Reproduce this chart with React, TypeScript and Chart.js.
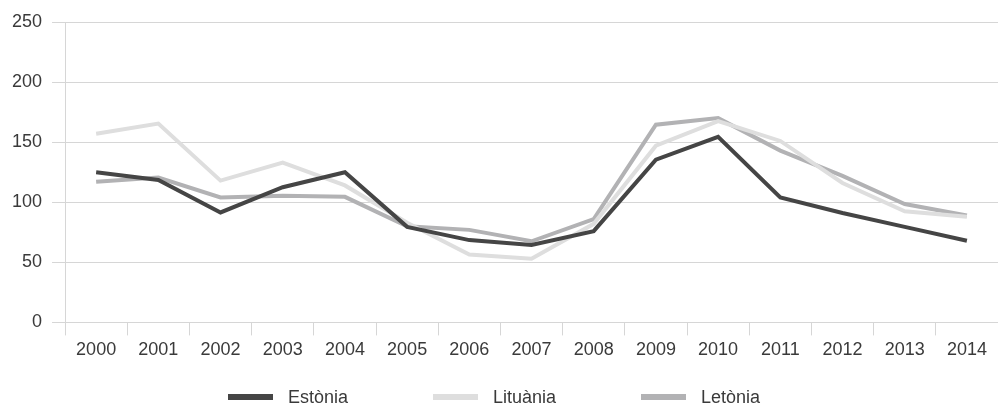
import React, { useEffect, useRef } from "react";
import { Chart, registerables } from "chart.js";

Chart.register(...registerables);

const years = ["2000","2001","2002","2003","2004","2005","2006","2007","2008","2009","2010","2011","2012","2013","2014"];
const estonia = [125, 118.5, 91.5, 112.5, 125, 79.5, 68.5, 64.5, 76, 135.5, 154.5, 104, 91, 79.5, 68];
const lituania = [157, 165.5, 118, 133, 114, 83, 56.5, 53, 82, 147, 167.5, 151, 116, 92.5, 88];
const letonia = [117, 120.5, 104, 105.5, 104.5, 80, 77, 67.5, 86, 164.5, 170, 143, 122, 98.5, 89];
const seriesNames = ["Estònia", "Lituània", "Letònia"];
const seriesColors = ["#454545", "#dedede", "#b2b2b4"];
const yTicks = [0, 50, 100, 150, 200, 250];

const FONT = "'Liberation Sans', Arial, sans-serif";

export default function App() {
  const ref = useRef<HTMLCanvasElement | null>(null);

  useEffect(() => {
    document.body.style.margin = "0";
    const canvas = ref.current;
    if (!canvas) return;
    const seriesValues = [estonia, lituania, letonia];
    const chart = new Chart(canvas, {
      type: "line",
      data: {
        labels: years,
        datasets: seriesNames.map((name, i) => ({
          label: name,
          data: seriesValues[i],
          borderColor: seriesColors[i],
          backgroundColor: seriesColors[i],
          borderWidth: 4,
          pointRadius: 0,
          tension: 0,
          borderJoinStyle: "miter" as const,
          borderCapStyle: "butt" as const,
          fill: false,
        })),
      },
      options: {
        responsive: false,
        animation: false,
        layout: { padding: { top: 22, left: 2, right: 0, bottom: 44 } },
        plugins: {
          legend: { display: false },
          tooltip: { enabled: false },
        },
        scales: {
          x: {
            offset: true,
            grid: {
              display: true,
              offset: true,
              drawOnChartArea: false,
              drawTicks: true,
              tickLength: 13,
              color: "#d6d6d6",
              lineWidth: 1,
            },
            border: { display: true, color: "#d6d6d6", width: 1 },
            ticks: {
              color: "#3a3a3a",
              padding: 4,
              font: { family: FONT, size: 18 },
              maxRotation: 0,
              autoSkip: false,
            },
          },
          y: {
            min: yTicks[0],
            max: yTicks[yTicks.length - 1],
            afterBuildTicks: (scale: any) => {
              scale.ticks = yTicks.map((v) => ({ value: v }));
            },
            grid: {
              color: "#d6d6d6",
              lineWidth: 1,
              tickLength: 13,
              drawTicks: true,
            },
            border: { display: true, color: "#d6d6d6", width: 1 },
            ticks: {
              color: "#3a3a3a",
              padding: 10,
              font: { family: FONT, size: 18 },
            },
          },
        },
      },
    });
    return () => chart.destroy();
  }, []);

  return (
    <div style={{ position: "relative", width: 998, height: 409, fontFamily: FONT }}>
      <canvas ref={ref} width={998} height={409} style={{ display: "block" }} />
      <div
        style={{
          position: "absolute",
          top: 386,
          left: 0,
          width: 988,
          display: "flex",
          justifyContent: "center",
          gap: 85,
          fontSize: 18,
          lineHeight: "22px",
          color: "#3a3a3a",
        }}
      >
        {seriesNames.map((name, i) => (
          <div key={name} style={{ display: "flex", alignItems: "center" }}>
            <span style={{ display: "inline-block", width: 45, height: 6, background: seriesColors[i], marginRight: 15 }} />
            <span>{name}</span>
          </div>
        ))}
      </div>
    </div>
  );
}
